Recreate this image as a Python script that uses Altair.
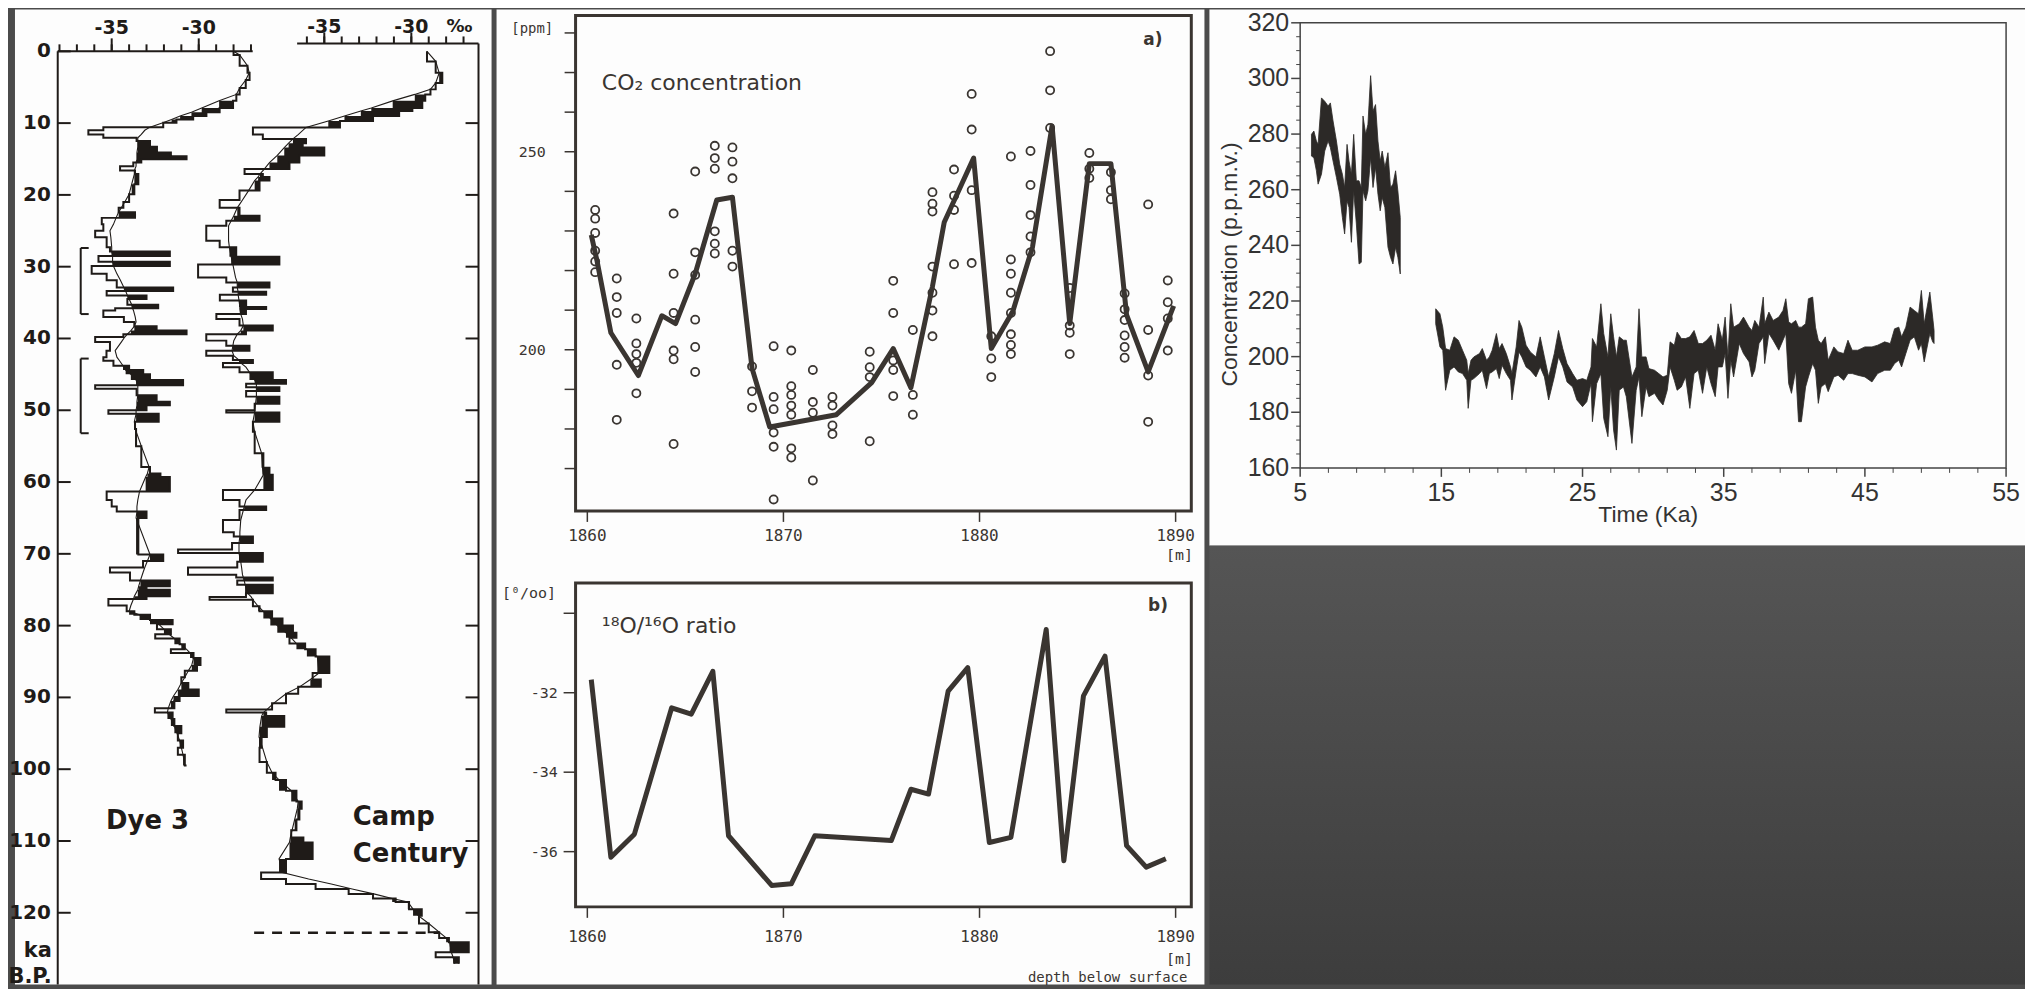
import altair as alt
import numpy as np
import pandas as pd

# ====================== DATA ======================
# ---- Left panel: delta-18O profiles (age in ka B.P., delta in per mil) ----
dye_age = [0.0,0.5,2.0,3.0,4.0,5.1,6.0,6.9,7.9,8.5,9.0,9.5,9.95,10.56,11.0,11.57,12.04,12.5,13.3,14.1,
           14.6,15.05,15.5,16.0,16.6,17.1,18.5,19.9,21.0,21.8,22.4,23.2,24.1,25.0,25.9,27.3,27.9,28.5,29.3,29.9,
           31.0,31.9,32.9,33.4,34.0,34.5,35.3,35.8,36.1,37.0,37.7,38.3,38.9,39.4,39.8,40.5,41.7,42.6,43.1,43.8,
           44.4,45.0,45.8,46.5,47.0,47.9,48.8,49.3,50.0,50.5,51.6,52.6,55.0,57.9,58.8,59.3,61.3,62.5,63.4,64.1,
           65.0,70.1,71.0,71.9,72.6,73.7,74.5,75.0,75.9,76.3,77.2,78.0,78.5,79.2,79.8,80.5,81.2,81.8,82.6,83.3,
           83.8,84.5,85.5,86.3,87.2,88.0,88.9,89.8,90.5,91.5,92.1,93.0,94.0,95.0,96.0,97.0,98.0,99.5]
dye_step = [-28.0,-27.65,-27.2,-27.08,-27.3,-27.65,-27.84,-28.03,-28.8,-29.56,-30.32,-31.28,-32.04,-35.48,-36.34,-35.48,-33.57,-32.8,-32.4,-31.6,
            -30.7,-33.3,-33.76,-34.52,-33.66,-33.47,-33.7,-34.0,-34.33,-34.6,-33.66,-35.57,-35.48,-35.95,-35.29,-35.1,-31.66,-35.76,-31.66,-36.15,
            -35.29,-34.71,-31.47,-35.29,-33.0,-34.1,-32.33,-34.8,-35.48,-34.3,-33.7,-32.42,-30.7,-34.33,-35.95,-35.1,-35.3,-35.48,-34.9,-34.0,
            -33.19,-32.8,-30.9,-35.95,-33.57,-32.42,-31.66,-33.0,-35.19,-32.3,-33.66,-33.6,-33.3,-32.8,-32.2,-31.66,-35.29,-35.0,-34.71,-33.0,
            -33.47,-32.04,-33.2,-35.1,-33.95,-31.66,-33.0,-31.66,-33.0,-35.19,-34.14,-33.7,-32.8,-31.5,-32.4,-31.6,-32.5,-31.1,-30.8,-31.6,
            -30.3,-29.9,-30.1,-30.8,-31.0,-30.6,-30.0,-31.1,-31.4,-32.52,-31.5,-31.4,-31.0,-31.2,-30.9,-31.2,-30.8,-30.7]
dye_smooth = [-28.0,-27.65,-27.2,-27.1,-27.3,-27.65,-27.84,-28.83,-29.83,-30.42,-31.07,-31.56,-32.06,-32.8,-33.1,-33.3,-33.5,-33.5,-33.5,-33.55,
              -33.55,-33.55,-33.6,-33.6,-33.7,-33.7,-33.85,-34.0,-34.25,-34.45,-34.6,-34.75,-34.9,-35.1,-35.05,-35.0,-35.0,-34.95,-34.95,-34.9,
              -34.7,-34.5,-34.3,-34.2,-34.1,-34.0,-33.85,-33.8,-33.75,-33.65,-33.6,-33.7,-33.9,-34.1,-34.25,-34.45,-34.8,-34.7,-34.55,-34.35,
              -34.2,-33.9,-33.6,-33.5,-33.5,-33.5,-33.55,-33.55,-33.6,-33.6,-33.7,-33.65,-33.3,-32.85,-32.95,-33.05,-33.4,-33.5,-33.55,-33.55,
              -33.6,-32.8,-32.95,-33.1,-33.2,-33.35,-33.45,-33.5,-33.7,-33.75,-33.9,-34.0,-33.4,-32.8,-32.3,-32.0,-31.7,-31.4,-31.0,-30.7,
              -30.5,-30.3,-30.4,-30.6,-30.8,-31.0,-31.2,-31.45,-31.6,-31.75,-31.8,-31.6,-31.4,-31.25,-31.1,-31.0,-30.9,-30.8]

cc_age = [0.0,1.4,3.0,4.4,5.3,6.0,6.9,7.9,8.3,9.0,9.7,10.6,11.6,12.2,12.8,13.4,14.5,15.5,16.4,17.1,
          17.5,18.0,19.4,20.7,21.8,22.9,23.6,24.3,26.4,27.3,28.6,29.7,31.5,32.2,32.9,33.5,33.9,34.7,35.6,35.9,
          36.6,37.3,38.2,38.9,39.4,40.3,41.0,41.7,42.4,43.0,43.4,44.0,44.7,45.8,46.3,46.8,47.3,48.1,49.1,50.0,
          50.3,51.6,53.0,56.0,58.0,59.0,61.1,62.5,63.4,63.9,65.3,67.0,67.6,68.5,69.4,69.9,71.1,71.9,72.9,73.3,
          73.7,74.3,75.5,76.0,76.4,77.3,78.0,79.0,80.0,81.0,81.7,82.5,83.3,84.3,86.6,87.5,88.5,89.5,90.8,91.7,
          92.1,92.6,94.1,95.5,97.0,99.0,100.5,101.5,103.0,104.5,105.5,107.0,108.5,109.5,110.2,112.5,114.4,115.3,116.0,116.7,
          117.4,118.0,118.5,119.5,120.4,121.5,122.7,123.5,124.1,125.5,126.2,127.1]
cc_step = [-29.1,-28.6,-28.22,-28.6,-28.9,-29.2,-29.37,-29.94,-30.7,-32.2,-34.1,-39.1,-38.53,-36.05,-36.24,-35.0,-36.43,-37.0,-39.58,-38.53,
           -38.15,-38.72,-39.87,-41.01,-39.87,-38.72,-40.63,-41.78,-41.01,-40.06,-37.58,-42.25,-40.63,-38.15,-40.25,-38.34,-41.0,-39.49,-38.34,-39.5,
           -41.2,-39.87,-37.96,-39.5,-41.78,-40.63,-39.3,-41.78,-40.25,-39.1,-40.82,-39.87,-37.96,-37.2,-39.49,-37.58,-39.49,-37.58,-39.0,-40.63,
           -37.58,-39.1,-39.0,-38.5,-38.15,-37.96,-40.82,-39.87,-38.34,-39.87,-40.82,-40.2,-39.1,-40.3,-43.4,-38.53,-40.0,-42.83,-40.06,-37.96,
           -40.0,-37.96,-39.5,-41.59,-39.1,-38.72,-38.0,-37.4,-36.8,-36.6,-37.0,-36.1,-35.5,-34.71,-35.67,-35.2,-36.5,-37.2,-38.0,-40.63,
           -38.34,-37.3,-38.3,-38.6,-38.72,-38.3,-37.8,-37.2,-36.6,-36.3,-36.43,-36.6,-36.9,-36.2,-35.67,-37.2,-38.63,-37.2,-35.5,-33.6,
           -32.2,-30.9,-30.13,-29.4,-29.56,-29.0,-28.4,-27.84,-26.7,-28.6,-27.27,-27.27]
cc_smooth = [-29.1,-28.6,-28.4,-28.6,-28.9,-29.8,-31.07,-32.3,-32.9,-33.84,-34.77,-36.05,-36.5,-36.8,-37.05,-37.3,-37.7,-38.15,-38.45,-38.7,
             -38.8,-39.0,-39.35,-39.7,-40.0,-40.2,-40.35,-40.5,-40.5,-40.45,-40.35,-40.25,-40.1,-40.0,-40.0,-39.95,-39.95,-39.9,-39.85,-39.85,
             -39.8,-39.7,-39.65,-39.8,-40.0,-40.2,-40.25,-40.3,-40.2,-39.9,-39.8,-39.5,-39.3,-39.0,-38.9,-38.9,-38.9,-38.9,-38.95,-39.0,
             -39.0,-39.1,-39.0,-38.6,-38.55,-38.5,-39.0,-39.5,-39.6,-39.65,-39.8,-39.85,-39.85,-39.9,-39.9,-39.9,-39.8,-39.75,-39.7,-39.65,
             -39.6,-39.55,-39.4,-39.2,-39.1,-38.8,-38.5,-38.1,-37.7,-37.2,-36.9,-36.6,-36.0,-35.4,-35.3,-35.8,-36.4,-37.2,-37.9,-38.3,
             -38.5,-38.6,-38.7,-38.75,-38.55,-38.3,-38.0,-37.6,-36.9,-36.5,-36.55,-36.7,-36.85,-36.95,-37.0,-37.6,-37.4,-35.9,-34.6,-33.4,
             -32.1,-31.1,-30.2,-29.9,-29.6,-29.0,-28.4,-28.0,-27.8,-27.7,-27.6,-27.5]

age_ticks = [0, 10, 20, 30, 40, 50, 60, 70, 80, 90, 100, 110, 120]
dye_minor_ticks = [-38, -37, -36, -35, -34, -33, -32, -31, -30, -29, -28, -27]
cc_minor_ticks = [-36, -35, -34, -33, -32, -31, -30, -29, -28, -27]
d18_major_ticks = [-35, -30]
d18_major_labels = ["-35", "-30"]
dye_axis_extent = [-38.1, -26.9]
cc_axis_extent = [-36.56, -26.14]
cc_axis_age = -1.1
dye_bracket_start = [27.4, 42.8]
dye_bracket_end = [36.6, 53.2]
dye_bracket_pos = -36.78
cc_dashed_age = 122.8
cc_dashed_extent = [-39.03, -28.43]

# ---- Middle panel: a) CO2 and b) 18O/16O versus depth ----
co2_line_depth = [1860.2,1860.5,1861.2,1862.6,1863.8,1864.5,1865.5,1866.6,1867.4,1868.4,1869.3,1872.7,1874.5,1875.6,
                  1876.5,1877.6,1878.2,1879.7,1880.6,1881.7,1882.7,1883.7,1884.6,1885.6,1886.7,1887.5,1888.6,1889.9]
co2_line_ppm = [229.0,222.3,204.3,193.5,208.6,206.6,219.2,237.8,238.5,195.3,180.5,183.6,191.7,200.3,
                190.4,216.0,232.2,248.4,200.3,209.7,225.9,256.5,206.6,247.0,247.0,208.8,194.4,211.1]
co2_sample_depth = ([1860.4]*6 + [1861.5]*5 + [1862.5]*5 + [1864.4]*6 + [1865.5]*6 + [1866.5]*6 + [1867.4]*5 +
                    [1868.4]*3 + [1869.5]*6 + [1870.4]*7 + [1871.5]*4 + [1872.5]*4 + [1874.4]*4 + [1875.6]*5 +
                    [1876.6]*3 + [1877.6]*7 + [1878.7]*4 + [1879.6]*4 + [1880.6]*3 + [1881.6]*8 + [1882.6]*5 +
                    [1883.6]*3 + [1884.6]*4 + [1885.6]*3 + [1886.7]*3 + [1887.4]*6 + [1888.6]*4 + [1889.6]*4)
co2_sample_ppm = [235.3,233.1,229.5,225.0,222.3,219.6, 218.0,213.3,209.3,196.2,182.3, 207.9,201.6,198.9,196.7,189.0,
                  234.4,219.2,209.3,199.8,197.6,176.2, 245.0,224.6,218.9,207.6,200.7,194.4, 251.5,248.4,245.7,229.9,226.8,224.3,
                  251.1,247.5,243.3,225.0,221.0, 195.8,189.5,185.4, 200.9,188.1,185.0,179.1,175.5,162.2,
                  199.8,190.8,188.6,185.9,183.6,175.1,172.8, 194.9,186.8,184.1,167.0, 188.1,185.9,180.9,178.7,
                  199.5,195.6,193.1,176.9, 217.4,209.3,197.3,194.9,188.3, 205.0,188.6,183.6,
                  239.8,236.9,234.9,221.0,214.4,209.9,203.4, 245.5,238.9,235.3,221.6, 264.6,255.6,240.3,221.9,
                  203.4,197.8,193.1, 248.8,222.8,219.2,214.4,209.3,203.9,201.2,198.9, 250.2,241.6,234.0,228.6,224.6,
                  275.4,265.5,256.0, 215.6,206.1,204.3,198.9, 249.7,245.7,243.4, 244.8,240.3,238.0,
                  214.2,210.2,207.5,203.6,200.7,198.0, 236.7,205.0,193.5,181.8, 217.5,212.0,207.9,199.8]
o18_depth = [1860.2,1861.2,1862.4,1864.3,1865.3,1866.4,1867.2,1869.4,1870.4,1871.6,1875.5,1876.5,
             1877.4,1878.4,1879.4,1880.5,1881.6,1883.4,1884.3,1885.3,1886.4,1887.5,1888.5,1889.5]
o18_value = [-31.67,-36.14,-35.56,-32.38,-32.54,-31.46,-35.60,-36.85,-36.81,-35.60,-35.72,-34.43,
             -34.55,-31.96,-31.37,-35.77,-35.64,-30.41,-36.23,-32.08,-31.08,-35.85,-36.39,-36.18]
depth_ticks = [1860, 1870, 1880, 1890]
depth_labels = ["1860", "1870", "1880", "1890"]
co2_ticks = [170, 180, 190, 200, 210, 220, 230, 240, 250, 260, 270, 280]
co2_label_ticks = [200, 250]
co2_label_text = ["200", "250"]
o18_ticks = [-30, -32, -34, -36]
o18_label_ticks = [-32, -34, -36]
o18_label_text = ["-32", "-34", "-36"]
depth_frame = [1859.4, 1890.8]
co2_frame = [159.3, 284.4]
o18_frame = [-37.39, -29.24]

# ---- Right panel: CO2 concentration vs time (Ka) ----
seg1_ka = [5.80,5.97,6.15,6.27,6.51,6.74,6.98,7.14,7.33,7.57,7.80,7.99,8.15,8.32,8.46,8.63,8.79,8.98,9.17,9.33,
           9.45,9.64,9.80,9.99,10.16,10.34,10.51,10.67,10.81,11.00,11.22,11.40,11.57,11.76,11.92,12.09]
seg1_hi = [279.9,281.1,277.5,276.3,293.0,291.8,290.1,291.2,284.7,277.5,269.2,265.6,260.8,276.3,270.3,265.6,279.9,263.2,263.2,260.8,
           286.5,279.9,283.5,301.0,288.3,290.6,277.5,270.3,273.9,268.0,273.3,260.8,262.0,266.8,259.6,250.0]
seg1_lo = [272.1,271.5,266.8,262.0,265.6,273.9,277.5,275.1,270.3,264.4,258.4,250.0,244.1,256.0,253.6,241.1,259.6,247.7,233.3,233.9,
           259.6,256.0,259.6,271.5,260.8,268.0,258.4,252.4,257.2,253.6,239.3,235.7,233.3,239.3,235.7,229.7]
seg2_ka = [14.6,14.9,15.1,15.3,15.6,15.9,16.2,16.5,16.8,16.9,17.1,17.3,17.7,17.9,18.2,18.4,18.6,18.9,19.1,19.3,
           19.6,19.9,20.0,20.3,20.5,20.7,21.0,21.3,21.7,22.0,22.3,22.6,23.0,23.3,23.6,23.9,24.3,24.6,25.0,25.3,
           25.6,25.7,26.0,26.3,26.5,26.8,27.0,27.2,27.4,27.6,27.9,28.1,28.5,28.8,29.0,29.2,29.5,29.7,30.1,30.4,
           30.7,31.0,31.2,31.5,31.7,32.0,32.3,32.6,32.9,33.2,33.5,33.8,34.1,34.4,34.6,34.9,35.1,35.3,35.5,35.7,
           36.1,36.4,36.8,37.0,37.2,37.5,37.8,37.9,38.2,38.5,38.9,39.2,39.4,39.6,39.8,40.1,40.3,40.5,40.8,41.0,
           41.3,41.5,41.7,41.9,42.2,42.4,42.8,43.1,43.5,43.8,44.1,44.5,45.0,45.5,45.9,46.4,46.8,47.1,47.4,47.6,
           47.9,48.2,48.5,48.8,49.0,49.2,49.6,49.8,49.9]
seg2_hi = [217.2,215.4,210.6,202.9,202.3,207.1,205.9,202.3,198.7,193.9,198.7,199.9,201.1,202.9,198.7,199.9,202.3,208.3,202.9,204.7,
           201.1,196.3,193.9,203.5,213.0,210.6,204.1,201.7,199.9,207.1,199.9,192.7,201.1,209.4,202.9,197.5,193.9,191.5,192.1,191.5,
           196.3,206.5,203.5,219.0,208.3,199.9,215.4,207.1,199.9,207.1,205.9,205.9,192.7,196.3,217.2,199.9,199.9,195.7,195.1,193.9,
           192.7,193.3,205.3,204.1,208.8,206.5,206.5,207.1,209.4,204.7,204.7,205.9,207.7,202.3,211.8,205.9,214.2,199.9,219.0,210.6,
           211.8,214.2,210.6,209.4,213.0,210.6,221.4,211.8,216.0,213.0,214.2,216.6,220.8,212.4,211.8,213.0,210.6,210.6,211.8,220.8,
           221.4,210.6,205.9,204.7,207.1,198.7,203.5,201.7,201.1,205.9,202.3,202.3,203.5,203.5,204.1,205.3,204.7,210.0,210.6,207.1,
           210.6,217.8,216.6,215.4,223.8,211.8,223.2,214.2,209.4]
seg2_lo = [211.8,203.5,202.3,187.9,195.1,196.3,194.5,193.9,191.5,181.4,191.5,192.1,193.9,195.1,188.5,193.9,194.5,195.7,192.1,196.9,
           193.9,191.5,184.4,195.1,201.7,199.9,196.3,195.1,192.7,196.3,192.7,184.4,192.7,199.9,196.3,190.9,189.1,184.4,182.0,183.8,
           190.3,176.6,190.3,193.9,177.8,171.2,189.1,173.6,166.4,187.9,189.1,185.6,168.8,187.9,192.7,178.4,189.1,185.6,186.8,184.4,
           182.6,187.9,196.3,191.5,187.9,189.1,192.7,181.4,193.9,195.1,186.8,196.3,190.3,185.6,196.3,196.3,201.1,185.0,198.7,192.7,
           204.7,201.1,198.1,192.7,195.1,204.7,207.1,197.5,208.3,205.9,202.3,205.9,208.3,190.3,186.8,195.1,176.6,176.6,189.1,192.7,
           197.5,195.1,183.2,189.1,190.3,187.4,192.7,193.3,191.5,193.9,193.9,193.3,192.7,190.9,193.9,195.1,195.1,197.5,198.7,196.3,
           201.1,205.9,207.1,202.3,204.7,198.1,208.3,205.3,204.7]
time_ticks = [5, 15, 25, 35, 45, 55]
time_labels = ["5", "15", "25", "35", "45", "55"]
time_minor = [7, 9, 11, 13, 17, 19, 21, 23, 27, 29, 31, 33, 37, 39, 41, 43, 47, 49, 51, 53]
conc_ticks = [160, 180, 200, 220, 240, 260, 280, 300, 320]
conc_labels = ["160", "180", "200", "220", "240", "260", "280", "300", "320"]
conc_minor = [165, 170, 175, 185, 190, 195, 205, 210, 215, 225, 230, 235, 245, 250, 255,
              265, 270, 275, 285, 290, 295, 305, 310, 315]
time_frame = [5, 55]
conc_frame = [160, 320]

# ====================== STYLE ======================
BG = "#4b4b4b"
PAPER = "#fdfdfd"
INK1 = "#1f1b18"
INK2 = "#3a3531"
INK3 = "#2c2927"
F1 = "DejaVu Sans"
F2 = "DejaVu Sans Mono"
F3 = "Liberation Sans"

DYE_X = alt.Scale(domain=[-40.556, -13.18], nice=False, zero=False)
CC_X = alt.Scale(domain=[-52.77, -25.39], nice=False, zero=False)
AGE_Y = alt.Scale(domain=[-5.833, 130.0], reverse=True, nice=False, zero=False)
DEPTH_X = alt.Scale(domain=[1855.37, 1891.47], nice=False, zero=False)
PPM_Y = alt.Scale(domain=[39.71, 285.93], nice=False, zero=False)
O18_Y = alt.Scale(domain=[-39.345, -14.803], nice=False, zero=False)
KA_X = alt.Scale(domain=[-1.427, 56.34], nice=False, zero=False)
CONC_Y = alt.Scale(domain=[131.97, 324.8], nice=False, zero=False)

ONE = pd.DataFrame({"k": [0]})


def Xf(f, s):
    return alt.X(f, type="quantitative", scale=s, axis=None)


def Yf(f, s):
    return alt.Y(f, type="quantitative", scale=s, axis=None)


def Xd(v, s):
    return alt.XDatum(v, scale=s, axis=None)


def Yd(v, s):
    return alt.YDatum(v, scale=s, axis=None)


def label(text, x, y, xs, ys, **mk):
    return alt.Chart(ONE).mark_text(**mk).encode(x=Xd(x, xs), y=Yd(y, ys), text=alt.value(text))


def hline(x1, x2, y, xs, ys, **mk):
    return alt.Chart(ONE).mark_rule(**mk).encode(x=Xd(x1, xs), x2=alt.X2Datum(x2), y=Yd(y, ys))


def vline(x, y1, y2, xs, ys, **mk):
    return alt.Chart(ONE).mark_rule(**mk).encode(x=Xd(x, xs), y=Yd(y1, ys), y2=alt.Y2Datum(y2))


def xticks(vals, y, xs, ys, length, **mk):
    return alt.Chart(pd.DataFrame({"v": vals})).mark_rule(y2Offset=length, **mk).encode(
        x=Xf("v", xs), y=Yd(y, ys), y2=alt.Y2Datum(y))


def yticks(vals, x, xs, ys, length, **mk):
    return alt.Chart(pd.DataFrame({"v": vals})).mark_rule(x2Offset=length, **mk).encode(
        y=Yf("v", ys), x=Xd(x, xs), x2=alt.X2Datum(x))


def xlabels(vals, texts, y, xs, ys, **mk):
    return alt.Chart(pd.DataFrame({"v": vals, "t": texts})).mark_text(**mk).encode(
        x=Xf("v", xs), y=Yd(y, ys), text=alt.Text("t:N"))


def ylabels(vals, texts, x, xs, ys, **mk):
    return alt.Chart(pd.DataFrame({"v": vals, "t": texts})).mark_text(**mk).encode(
        y=Yf("v", ys), x=Xd(x, xs), text=alt.Text("t:N"))


def frame(xr, yr, xs, ys, **mk):
    return alt.Chart(ONE).mark_rect(fillOpacity=0, **mk).encode(
        x=Xd(xr[0], xs), x2=alt.X2Datum(xr[1]), y=Yd(yr[0], ys), y2=alt.Y2Datum(yr[1]))


def core_layers(age, step, smooth, xs):
    df = pd.DataFrame({"age": age, "step": step, "smooth": smooth})
    df["warm"] = np.maximum(df["step"], df["smooth"])
    fill = alt.Chart(df).mark_area(orient="horizontal", interpolate="step-before", color=INK1).encode(
        y=Yf("age", AGE_Y), x=Xf("smooth", xs), x2=alt.X2("warm"))
    stepl = alt.Chart(df).mark_line(interpolate="step-before", color=INK1, strokeWidth=2).encode(
        y=Yf("age", AGE_Y), x=Xf("step", xs), order=alt.Order("age:Q"))
    smoothl = alt.Chart(df).mark_line(color=INK1, strokeWidth=1.1).encode(
        y=Yf("age", AGE_Y), x=Xf("smooth", xs), order=alt.Order("age:Q"))
    return [fill, stepl, smoothl]


# ====================== PANEL 1 ======================
lab1 = dict(font=F1, fontWeight="bold", color=INK1)
dye_layers = core_layers(dye_age, dye_step, dye_smooth, DYE_X) + [
    hline(dye_axis_extent[0], dye_axis_extent[1], 0, DYE_X, AGE_Y, color=INK1, strokeWidth=2),
    xticks(dye_minor_ticks, 0, DYE_X, AGE_Y, -7, color=INK1, strokeWidth=2),
    xticks(d18_major_ticks, 0, DYE_X, AGE_Y, -13, color=INK1, strokeWidth=2),
    xlabels(d18_major_ticks, d18_major_labels, 0, DYE_X, AGE_Y, dy=-23, fontSize=19, **lab1),
    vline(dye_axis_extent[0], 0, 130, DYE_X, AGE_Y, color=INK1, strokeWidth=2),
    yticks(age_ticks, dye_axis_extent[0], DYE_X, AGE_Y, 13, color=INK1, strokeWidth=2),
    ylabels(age_ticks, [str(a) for a in age_ticks], dye_axis_extent[0], DYE_X, AGE_Y,
            dx=-7, align="right", fontSize=20, **lab1),
    alt.Chart(pd.DataFrame({"a0": dye_bracket_start, "a1": dye_bracket_end})).mark_rule(
        color=INK1, strokeWidth=2).encode(x=Xd(dye_bracket_pos, DYE_X), y=Yf("a0", AGE_Y), y2=alt.Y2("a1")),
    yticks(dye_bracket_start + dye_bracket_end, dye_bracket_pos, DYE_X, AGE_Y, 8, color=INK1, strokeWidth=2),
    label("Dye 3", -32.94, 107.2, DYE_X, AGE_Y, fontSize=26, **lab1),
    label("ka", -38.44, 125.3, DYE_X, AGE_Y, align="right", fontSize=21, **lab1),
    label("B.P.", -38.44, 128.9, DYE_X, AGE_Y, align="right", fontSize=21, **lab1),
]
cc_layers = core_layers(cc_age, cc_step, cc_smooth, CC_X) + [
    hline(cc_axis_extent[0], cc_axis_extent[1], cc_axis_age, CC_X, AGE_Y, color=INK1, strokeWidth=2),
    xticks(cc_minor_ticks, cc_axis_age, CC_X, AGE_Y, -7, color=INK1, strokeWidth=2),
    xticks(d18_major_ticks, cc_axis_age, CC_X, AGE_Y, -11, color=INK1, strokeWidth=2),
    xlabels(d18_major_ticks, d18_major_labels, cc_axis_age, CC_X, AGE_Y, dy=-16, fontSize=19, **lab1),
    label("‰", -27.23, cc_axis_age, CC_X, AGE_Y, dy=-16, fontSize=18, **lab1),
    vline(cc_axis_extent[1], cc_axis_age, 130, CC_X, AGE_Y, color=INK1, strokeWidth=2),
    yticks(age_ticks[1:], cc_axis_extent[1], CC_X, AGE_Y, -13, color=INK1, strokeWidth=2),
    hline(cc_dashed_extent[0], cc_dashed_extent[1], cc_dashed_age, CC_X, AGE_Y,
          color=INK1, strokeWidth=2.5, strokeDash=[10, 8]),
    label("Camp", -33.36, 106.7, CC_X, AGE_Y, align="left", fontSize=26, **lab1),
    label("Century", -33.36, 111.8, CC_X, AGE_Y, align="left", fontSize=26, **lab1),
]
p1 = alt.layer(alt.layer(*dye_layers), alt.layer(*cc_layers)).resolve_scale(x="independent").properties(
    width=478, height=978)

# ====================== PANEL 2 ======================
mono = dict(font=F2, color=INK2)
co2_line_df = pd.DataFrame({"d": co2_line_depth, "v": co2_line_ppm})
co2_pts_df = pd.DataFrame({"d": co2_sample_depth, "v": co2_sample_ppm})
o18_df = pd.DataFrame({"d": o18_depth, "v": o18_value})

a_layers = [
    frame(depth_frame, co2_frame, DEPTH_X, PPM_Y, stroke=INK2, strokeWidth=3),
    yticks(co2_ticks, depth_frame[0], DEPTH_X, PPM_Y, -11, color=INK2, strokeWidth=1.5),
    ylabels(co2_label_ticks, co2_label_text, depth_frame[0], DEPTH_X, PPM_Y, dx=-30, align="right",
            fontSize=15, **mono),
    xticks(depth_ticks, co2_frame[0], DEPTH_X, PPM_Y, 11, color=INK2, strokeWidth=1.5),
    xlabels(depth_ticks, depth_labels, co2_frame[0], DEPTH_X, PPM_Y, dy=25, fontSize=16, **mono),
    label("[m]", 1890, co2_frame[0], DEPTH_X, PPM_Y, dy=44, dx=4, fontSize=15, **mono),
    label("[ppm]", 1856.12, 281.1, DEPTH_X, PPM_Y, align="left", fontSize=14, **mono),
    label("a)", 1888.84, 278.2, DEPTH_X, PPM_Y, font=F1, fontWeight="bold", fontSize=17, color=INK2),
    label("CO₂ concentration", 1860.74, 267.3, DEPTH_X, PPM_Y, align="left", font=F1, fontSize=22,
          color=INK2),
    alt.Chart(co2_pts_df).mark_point(shape="circle", size=66, filled=False, color=INK2, strokeWidth=1.8,
                                     opacity=1).encode(x=Xf("d", DEPTH_X), y=Yf("v", PPM_Y)),
    alt.Chart(co2_line_df).mark_line(color=INK2, strokeWidth=5, strokeJoin="round").encode(
        x=Xf("d", DEPTH_X), y=Yf("v", PPM_Y)),
]
b_layers = [
    frame(depth_frame, o18_frame, DEPTH_X, O18_Y, stroke=INK2, strokeWidth=3),
    yticks(o18_ticks, depth_frame[0], DEPTH_X, O18_Y, -12, color=INK2, strokeWidth=1.5),
    ylabels(o18_label_ticks, o18_label_text, depth_frame[0], DEPTH_X, O18_Y, dx=-18, align="right",
            fontSize=15, **mono),
    xticks(depth_ticks, o18_frame[0], DEPTH_X, O18_Y, 11, color=INK2, strokeWidth=1.5),
    xlabels(depth_ticks, depth_labels, o18_frame[0], DEPTH_X, O18_Y, dy=30, fontSize=16, **mono),
    label("[m]", 1890, o18_frame[0], DEPTH_X, O18_Y, dy=52, dx=4, fontSize=15, **mono),
    label("depth below surface", 1890.6, o18_frame[0], DEPTH_X, O18_Y, dy=78, align="right",
          baseline="bottom", fontSize=14, **mono),
    label("[⁰/oo]", 1855.65, -29.48, DEPTH_X, O18_Y, align="left", fontSize=15, **mono),
    label("b)", 1889.1, -29.83, DEPTH_X, O18_Y, font=F1, fontWeight="bold", fontSize=17, color=INK2),
    label("¹⁸O/¹⁶O ratio", 1860.74, -30.33, DEPTH_X, O18_Y, align="left", font=F1, fontSize=22,
          color=INK2),
    alt.Chart(o18_df).mark_line(color=INK2, strokeWidth=5, strokeJoin="round").encode(
        x=Xf("d", DEPTH_X), y=Yf("v", O18_Y)),
]
p2 = alt.layer(alt.layer(*a_layers), alt.layer(*b_layers)).resolve_scale(y="independent").properties(
    width=710, height=978)

# ====================== PANEL 3 ======================
band_df = pd.concat([
    pd.DataFrame({"seg": "a", "ka": seg1_ka, "hi": seg1_hi, "lo": seg1_lo}),
    pd.DataFrame({"seg": "b", "ka": seg2_ka, "hi": seg2_hi, "lo": seg2_lo}),
])
lab3 = dict(font=F3, color="#333333")
p3 = alt.layer(
    alt.Chart(band_df).mark_area(color=INK3, stroke=INK3, strokeWidth=0.8).encode(
        x=Xf("ka", KA_X), y=Yf("hi", CONC_Y), y2=alt.Y2("lo"), detail="seg:N"),
    frame(time_frame, conc_frame, KA_X, CONC_Y, stroke="#444444", strokeWidth=1.5),
    yticks(conc_ticks, time_frame[0], KA_X, CONC_Y, -9, color="#444444", strokeWidth=1.5),
    yticks(conc_minor, time_frame[0], KA_X, CONC_Y, -4, color="#444444", strokeWidth=1),
    ylabels(conc_ticks, conc_labels, time_frame[0], KA_X, CONC_Y, dx=-11, align="right", fontSize=25, **lab3),
    xticks(time_ticks, conc_frame[0], KA_X, CONC_Y, 9, color="#444444", strokeWidth=1.5),
    xticks(time_minor, conc_frame[0], KA_X, CONC_Y, 5, color="#444444", strokeWidth=1),
    xlabels(time_ticks, time_labels, conc_frame[0], KA_X, CONC_Y, dy=25, fontSize=25, **lab3),
    label("Time (Ka)", 29.65, 143.1, KA_X, CONC_Y, fontSize=23, **lab3),
    label("Concentration (p.p.m.v.)", 0.056, 233.1, KA_X, CONC_Y, angle=270, fontSize=23, **lab3),
).properties(width=818, height=538)

# dark slide background below the right-hand figure (vertical gradient)
slide_gradient = alt.LinearGradient(
    gradient="linear",
    stops=[alt.GradientStop(color="#555555", offset=0), alt.GradientStop(color="#3d3d3d", offset=1)],
    x1=0, x2=0, y1=0, y2=1)
filler = alt.Chart(ONE).mark_rect(color=slide_gradient).encode(
    x=alt.value(0), x2=alt.value("width"), y=alt.value(0), y2=alt.value("height")).properties(
    width=818, height=440, view=alt.ViewBackground(fill=BG, strokeWidth=0))

right_col = alt.vconcat(p3, filler, spacing=0)

chart = alt.hconcat(p1, p2, right_col, spacing=5, bounds="flush", padding=0, background=BG).configure_view(
    fill=PAPER, strokeWidth=0)

chart.save("out.html", embed_options={"renderer": "svg", "actions": False})
